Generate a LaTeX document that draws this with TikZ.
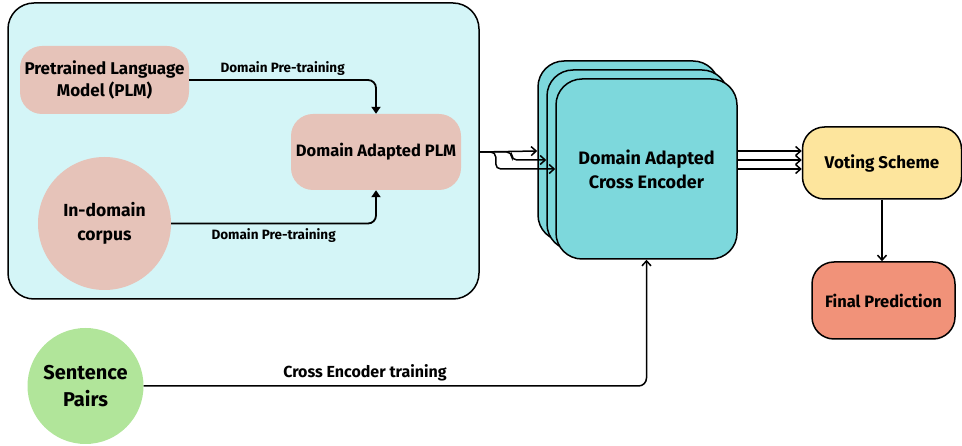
\documentclass[tikz,border=0pt]{standalone}
\usepackage{fontspec}
\setmainfont{Fira Sans}
\usetikzlibrary{arrows.meta}

\definecolor{poolBg}{HTML}{D4F5F7}
\definecolor{plmFill}{HTML}{E6C3B9}
\definecolor{encFill}{HTML}{7DD8DC}
\definecolor{voteFill}{HTML}{FDE59D}
\definecolor{predFill}{HTML}{F19279}
\definecolor{pairFill}{HTML}{B1E59A}

\newcommand{\boxFontSty}[1]{\bfseries\fontsize{#1}{22}\selectfont}
\newcommand{\edgeFontSty}{\bfseries\fontsize{13.5}{15}\selectfont}

\tikzset{
	blob/.style={rectangle, rounded corners=22pt, inner sep=0pt, align=center, font=\boxFontSty{16.5}},
	encbox/.style={blob, draw, line width=1.5pt, fill=encFill, rounded corners=26pt, minimum width=181pt, minimum height=180pt},
	flow/.style={line width=1.8pt, -{Triangle[length=7pt, width=9pt]}},
	fan/.style={line width=1.5pt, -{Straight Barb[length=5pt, width=9pt]}},
	edgelbl/.style={font=\edgeFontSty, inner sep=4pt}
}

\begin{document}
\begin{tikzpicture}[x=1pt, y=-1pt]

		\useasboundingbox (0,0) rectangle (962,446);

		% pre-training area
		\node[draw, line width=1.5pt, fill=poolBg, rounded corners=26pt, minimum width=471pt, minimum height=296pt, inner sep=0pt] (pool) at (243.5,151) {};

		% inputs and adapted model
		\node[blob, fill=plmFill, minimum width=169pt, minimum height=68pt, font=\boxFontSty{17}] (plm) at (104.5,80) {Pretrained Language\\Model (PLM)};
		\node[blob, fill=plmFill, minimum width=170pt, minimum height=76pt] (dapt) at (376,152) {Domain Adapted PLM};
		\node[circle, fill=plmFill, minimum size=133pt, inner sep=0pt, align=center, font=\bfseries\fontsize{17.5}{24}\selectfont] (corpus) at (104.5,223.5) {In-domain\\corpus};

		\draw[flow, rounded corners=8pt] (plm.east) -| (dapt.north) node[edgelbl, above, pos=0.25] {Domain Pre-training};
		\draw[flow, rounded corners=8pt] (corpus.east) -| (dapt.south) node[edgelbl, below, pos=0.25] {Domain Pre-training};

		% stacked cross encoders, back to front
		\node[encbox] (enc1) at (628.5,151) {};
		\node[encbox] (enc2) at (637.5,160) {};
		\node[encbox, font=\bfseries\fontsize{18}{24}\selectfont] (enc3) at (646.5,169) {Domain Adapted\\Cross Encoder};

		\coordinate (split) at (pool.east |- dapt.east);
		\draw[fan] (split) -- (enc1.west);
		\draw[fan, rounded corners=5pt] (split) -- ++(32,0) |- (enc2.west);
		\draw[fan, rounded corners=5pt] (split) -- ++(16,0) |- (enc3.west);

		% voting and prediction
		\node[blob, draw, line width=1.5pt, fill=voteFill, minimum width=159pt, minimum height=72pt, font=\boxFontSty{17}] (vote) at (882,163) {Voting Scheme};
		\node[blob, draw, line width=1.5pt, fill=predFill, minimum width=143pt, minimum height=77pt, font=\boxFontSty{16.5}] (pred) at (883.5,300.5) {Final Prediction};

		\draw[fan] (enc1.east -| enc3.east) -- (enc1.east -| vote.west);
		\draw[fan] (enc2.east -| enc3.east) -- (enc2.east -| vote.west);
		\draw[fan] (enc3.east) -- (enc3.east -| vote.west);
		\draw[fan] (vote.south) -- (vote.south |- pred.north);

		% training pairs
		\node[circle, fill=pairFill, minimum size=116pt, inner sep=0pt, align=center, font=\bfseries\fontsize{20}{27}\selectfont] (pairs) at (85.5,386) {Sentence\\Pairs};
		\draw[fan, rounded corners=8pt] (pairs.east) -| (enc3.south) node[edgelbl, above, pos=0.22, font=\bfseries\fontsize{16}{18}\selectfont] {Cross Encoder training};

\end{tikzpicture}
\end{document}
